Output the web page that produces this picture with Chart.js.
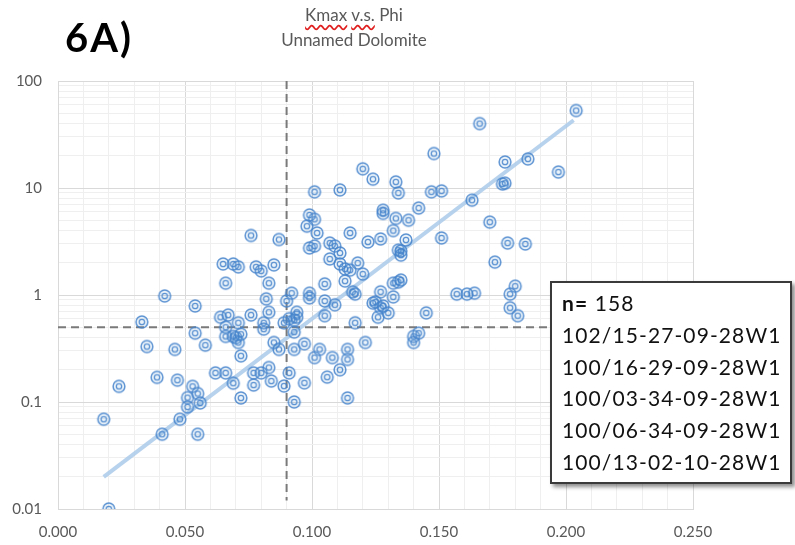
<!DOCTYPE html>
<html>
<head>
    <title>Kmax v.s. Phi - Unnamed Dolomite</title>
    <script src="https://cdn.jsdelivr.net/npm/chart.js"></script>
    <style>
        body { margin: 0; background: #fff; font-family: Lato, sans-serif; }
        #wrap { position: relative; width: 795px; height: 545px; }
        #box { position: absolute; left: 0; top: 0; width: 795px; height: 545px; }
        .title { position: absolute; left: 254px; top: 2px; width: 200px; text-align: center;
                 font-size: 17px; line-height: 25px; color: #595959; }
        .wavy { text-decoration: underline wavy #e02020; text-decoration-skip-ink: none; text-underline-offset: 3px; }
        .tag { position: absolute; left: 65px; top: 17px; font-size: 40px; line-height: 40px;
               font-weight: bold; letter-spacing: 2px; color: #000; }
        .legend { position: absolute; left: 550px; top: 281px; width: 242px; height: 203px; box-sizing: border-box;
                  border: 2px solid #3a3a3a; background: #fff; box-shadow: 3px 3px 4px rgba(0,0,0,0.45);
                  padding: 4px 0 0 10px; font-size: 21px; line-height: 31.8px; letter-spacing: 1.1px; color: #111; }
    </style>
</head>
<body>
<div id="wrap">
    <div id="box"><canvas id="kChart"></canvas></div>
    <div class="title"><span class="wavy">Kmax</span> <span class="wavy">v.s.</span> Phi<br>Unnamed Dolomite</div>
    <div class="tag">6A)</div>
    <div class="legend" id="legend"></div>
</div>
<script>
    // porosity (fraction) and Kmax (mD)
    const phi = [
        0.042,0.054,0.033,0.054,0.035,0.046,0.039,0.047,0.024,0.053,0.055,0.051,0.056,0.051,0.018,0.048,0.041,0.055,0.020,
        0.076,0.087,0.065,0.069,0.071,0.078,0.080,0.085,0.083,0.066,0.092,0.082,0.090,0.094,0.064,0.067,0.076,0.083,0.071,0.081,
        0.089,0.093,0.066,0.081,0.093,0.066,0.069,0.072,0.070,0.071,0.085,0.058,0.087,0.093,0.072,0.062,0.066,0.077,0.080,0.083,
        0.091,0.069,0.077,0.084,0.089,0.072,0.093,0.094,0.091,
        0.120,0.124,0.133,0.134,0.101,0.111,0.128,0.128,0.133,0.099,0.101,0.098,0.102,0.115,0.132,0.099,0.101,0.107,0.109,0.111,
        0.122,0.127,0.134,0.107,0.111,0.118,0.113,0.115,0.120,0.113,0.105,0.116,0.117,0.127,0.132,0.134,0.099,0.099,0.105,0.109,
        0.125,0.128,0.132,0.124,0.127,0.105,0.130,0.126,0.117,0.097,0.103,0.101,0.108,0.114,0.114,0.121,0.111,0.097,0.106,0.114,
        0.204,0.166,0.148,0.176,0.185,0.197,0.147,0.151,0.175,0.176,0.163,0.142,0.138,0.170,0.137,0.151,0.177,0.184,0.135,0.172,
        0.135,0.135,0.145,0.157,0.161,0.164,0.180,0.178,0.178,0.181,0.140,0.142,0.140
    ];
    const kmax = [
        0.98,0.79,0.56,0.44,0.33,0.31,0.17,0.16,0.14,0.14,0.12,0.11,0.098,0.09,0.069,0.069,0.05,0.05,0.01,
        3.6,3.3,1.95,1.95,1.83,1.83,1.68,1.91,1.29,1.29,1.04,0.92,0.88,0.69,0.62,0.65,0.65,0.69,0.55,0.55,
        0.55,0.58,0.5,0.48,0.45,0.41,0.41,0.43,0.4,0.36,0.36,0.34,0.31,0.31,0.27,0.187,0.187,0.187,0.187,0.21,
        0.187,0.15,0.144,0.157,0.141,0.109,0.1,0.62,0.6,
        15.1,12.1,11.4,9.0,9.2,9.6,6.2,5.8,5.2,5.6,5.1,4.4,3.8,3.8,4.0,2.75,2.87,3.06,2.87,2.47,
        3.13,3.34,2.63,2.17,1.95,1.99,1.75,1.71,1.57,1.35,1.27,1.07,1.02,1.07,1.29,1.32,1.04,0.94,0.88,0.81,
        0.86,0.79,0.96,0.84,0.76,0.64,0.68,0.62,0.55,0.35,0.31,0.26,0.26,0.31,0.25,0.36,0.2,0.151,0.171,0.109,
        53,40,21,17.5,18.7,14.1,9.2,9.4,10.9,11.1,7.7,6.5,5.0,4.8,3.27,3.41,3.06,3.0,2.58,2.03,
        2.36,1.38,0.68,1.02,1.02,1.04,1.21,1.02,0.76,0.64,0.41,0.44,0.36
    ];

    // trendline end points and cutoff lines
    const trendPhi = [0.018, 0.203];
    const trendK = [0.02, 43];
    const cutPhi = 0.09;
    const cutK = 0.5;
    const cutPhiSpan = [100, 0.012];
    const cutKSpan = [0, 0.25];

    // axis ticks
    const xLabels = ['0.000', '0.050', '0.100', '0.150', '0.200', '0.250'];
    const yDecades = [0.01, 0.1, 1, 10, 100];
    const yLabels = ['0.01', '0.1', '1', '10', '100'];

    const sampleCount = '158';
    const legendLines = ['102/15-27-09-28W1', '100/16-29-09-28W1', '100/03-34-09-28W1',
                         '100/06-34-09-28W1', '100/13-02-10-28W1'];

    // legend box text
    const legend = document.getElementById('legend');
    legend.innerHTML = '<div><b>n=</b> ' + sampleCount + '</div>' +
        legendLines.map(s => '<div>' + s + '</div>').join('');

    // double ring marker
    const marker = document.createElement('canvas');
    marker.width = 16; marker.height = 16;
    const mc = marker.getContext('2d');
    mc.strokeStyle = 'rgba(68,130,203,0.85)';
    mc.fillStyle = 'rgba(91,155,213,0.12)';
    mc.lineWidth = 1.5;
    mc.beginPath(); mc.arc(8, 8, 5.9, 0, Math.PI * 2); mc.fill(); mc.stroke();
    mc.lineWidth = 1.3;
    mc.beginPath(); mc.arc(8, 8, 2.7, 0, Math.PI * 2); mc.stroke();

    const tickFont = { family: 'Lato', size: 15 };
    const grey = '#595959';

    new Chart(document.getElementById('kChart'), {
        type: 'scatter',
        data: {
            datasets: [
                {
                    data: phi.map((p, i) => ({ x: p, y: kmax[i] })),
                    pointStyle: marker,
                    order: 0
                },
                {
                    data: trendPhi.map((p, i) => ({ x: p, y: trendK[i] })),
                    showLine: true,
                    borderColor: 'rgba(170,202,233,0.85)',
                    borderWidth: 4,
                    pointRadius: 0,
                    order: 2
                },
                {
                    data: cutPhiSpan.map(v => ({ x: cutPhi, y: v })),
                    showLine: true,
                    borderColor: '#7a7a7a',
                    borderWidth: 2,
                    borderDash: [8, 5],
                    pointRadius: 0,
                    order: 1
                },
                {
                    data: cutKSpan.map(v => ({ x: v, y: cutK })),
                    showLine: true,
                    borderColor: '#7a7a7a',
                    borderWidth: 2,
                    borderDash: [8, 5],
                    pointRadius: 0,
                    order: 1
                }
            ]
        },
        options: {
            responsive: true,
            maintainAspectRatio: false,
            animation: false,
            events: [],
            layout: { padding: { top: 81, right: 102, left: 0, bottom: 0 } },
            plugins: { legend: { display: false }, tooltip: { enabled: false } },
            scales: {
                x: {
                    type: 'linear',
                    min: 0,
                    max: 0.25,
                    afterBuildTicks: s => {
                        const t = [];
                        for (let i = 0; i <= 25; i++) t.push({ value: i / 100 });
                        s.ticks = t;
                    },
                    afterFit: s => { s.height = 36; },
                    ticks: {
                        autoSkip: false,
                        maxRotation: 0,
                        padding: 14,
                        color: grey,
                        font: tickFont,
                        callback: (v, i) => (i % 5 === 0 ? xLabels[i / 5] : '')
                    },
                    grid: {
                        drawTicks: false,
                        color: c => (c.index % 5 === 0 ? '#d9d9d9' : '#efefef')
                    },
                    border: { color: '#d9d9d9' }
                },
                y: {
                    type: 'logarithmic',
                    min: 0.01,
                    max: 100,
                    afterBuildTicks: s => {
                        const t = [];
                        yDecades.forEach((d, k) => {
                            t.push({ value: d });
                            if (k < yDecades.length - 1) {
                                for (let m = 2; m <= 9; m++) t.push({ value: d * m });
                            }
                        });
                        s.ticks = t;
                    },
                    afterFit: s => { s.width = 58; },
                    ticks: {
                        autoSkip: false,
                        padding: 16,
                        color: grey,
                        font: tickFont,
                        callback: v => {
                            const k = yDecades.indexOf(v);
                            return k >= 0 ? yLabels[k] : '';
                        }
                    },
                    grid: {
                        drawTicks: false,
                        color: c => (c.tick && yDecades.includes(c.tick.value) ? '#d9d9d9' : '#efefef')
                    },
                    border: { color: '#d9d9d9' }
                }
            }
        }
    });
</script>
</body>
</html>
